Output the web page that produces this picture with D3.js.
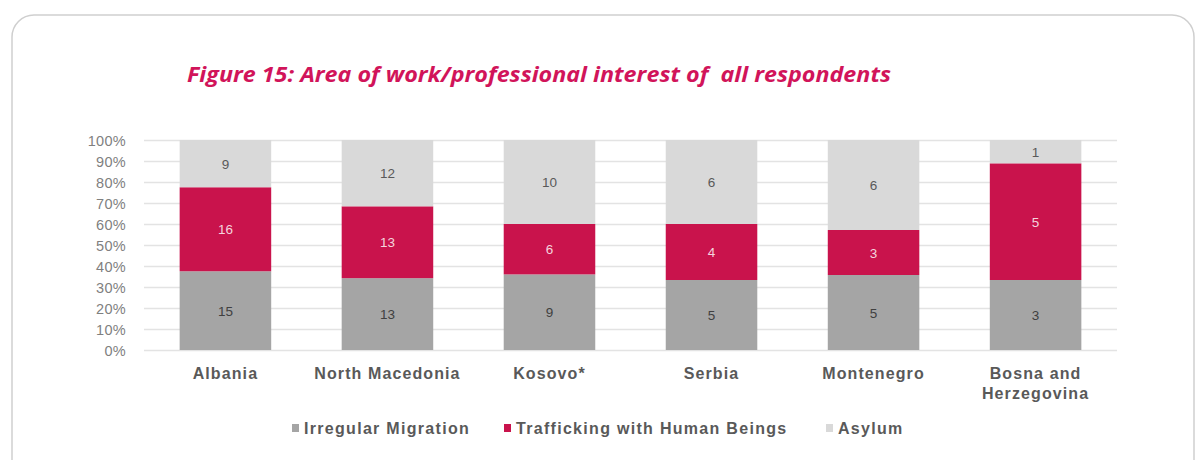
<!DOCTYPE html>
<html><head><meta charset="utf-8">
<script src="https://cdn.jsdelivr.net/npm/d3@7"></script>
<style>body{margin:0;background:#fff;}</style>
</head><body>
<script>
const categories = ["Albania", "North Macedonia", "Kosovo*", "Serbia", "Montenegro", "Bosna and Herzegovina"];
const seriesNames = ["Irregular Migration", "Trafficking with Human Beings", "Asylum"];
const irregularMigration = [15, 13, 9, 5, 5, 3];
const trafficking = [16, 13, 6, 4, 3, 5];
const asylum = [9, 12, 10, 6, 6, 1];
const yTicks = [0, 0.1, 0.2, 0.3, 0.4, 0.5, 0.6, 0.7, 0.8, 0.9, 1.0];
const colors = ["#A5A5A5", "#C9134C", "#D9D9D9"];
const labelColors = ["#404040", "#F4D3DD", "#595959"];
const title = "Figure 15: Area of work/professional interest of  all respondents";

const W = 1200, H = 460;
const svg = d3.select("body").append("svg").attr("width", W).attr("height", H);
svg.append("rect").attr("x", 12).attr("y", 15).attr("width", 1182).attr("height", 470)
  .attr("rx", 22).attr("fill", "#fff").attr("stroke", "#cfcfcf").attr("stroke-width", 1.5);

svg.append("text").attr("x", 187).attr("y", 82).text(title)
  .style("white-space", "pre")
  .attr("font-family", "Open Sans").attr("font-style", "italic").attr("font-weight", 700)
  .attr("font-size", 22).attr("fill", "#D1145A").attr("textLength", 704).attr("lengthAdjust", "spacingAndGlyphs");

const rows = categories.map((c, i) => ({cat: c, s0: irregularMigration[i], s1: trafficking[i], s2: asylum[i]}));
const stack = d3.stack().keys(["s0", "s1", "s2"]).offset(d3.stackOffsetExpand);
const stacked = stack(rows);

const x = d3.scaleBand().domain(categories).range([144, 1117]).paddingInner(0.435).paddingOuter(0.22);
const y = d3.scaleLinear().domain([0, 1]).range([350, 140]);

const font = "Liberation Sans, Arial, sans-serif";
const yAxis = d3.axisLeft(y).tickValues(yTicks).tickFormat(d3.format(".0%")).tickSize(-(1117 - 144)).tickPadding(18);
const ga = svg.append("g").attr("transform", "translate(144,0)").call(yAxis);
ga.select(".domain").remove();
ga.selectAll(".tick line").attr("stroke", "#E3E3E3").attr("stroke-width", 1.5);
ga.selectAll(".tick text").attr("font-family", font).attr("font-size", 14.5).attr("fill", "#7F7F7F")
  .attr("dy", "0.36em").attr("letter-spacing", 0.3);

const g = svg.append("g");
stacked.forEach((layer, si) => {
  g.selectAll(null).data(layer).enter().append("rect")
    .attr("x", d => x(d.data.cat)).attr("width", x.bandwidth())
    .attr("y", d => y(d[1])).attr("height", d => y(d[0]) - y(d[1]))
    .attr("fill", colors[si]);
  g.selectAll(null).data(layer).enter().append("text")
    .attr("x", d => x(d.data.cat) + x.bandwidth() / 2)
    .attr("y", d => (y(d[0]) + y(d[1])) / 2 + 5)
    .attr("text-anchor", "middle").attr("font-family", font).attr("font-size", 13.5)
    .attr("fill", labelColors[si])
    .text(d => d.data["s" + si]);
});

const xl = svg.append("g");
categories.forEach(c => {
  const lines = c === "Bosna and Herzegovina" ? ["Bosna and", "Herzegovina"] : [c];
  lines.forEach((ln, li) => {
    xl.append("text").attr("x", x(c) + x.bandwidth() / 2).attr("y", 379 + li * 20)
      .attr("text-anchor", "middle").attr("font-family", font).attr("font-size", 16).attr("font-weight", 700)
      .attr("letter-spacing", 1.1).attr("fill", "#595959").text(ln);
  });
});

const legX = [292, 504, 826];
seriesNames.forEach((s, i) => {
  svg.append("rect").attr("x", legX[i]).attr("y", 424).attr("width", 7).attr("height", 8).attr("fill", colors[i]);
  svg.append("text").attr("x", legX[i] + 12).attr("y", 434).attr("font-family", font).attr("font-size", 16)
    .attr("font-weight", 700).attr("letter-spacing", 1.3).attr("fill", "#595959").text(s);
});
</script>
</body></html>
